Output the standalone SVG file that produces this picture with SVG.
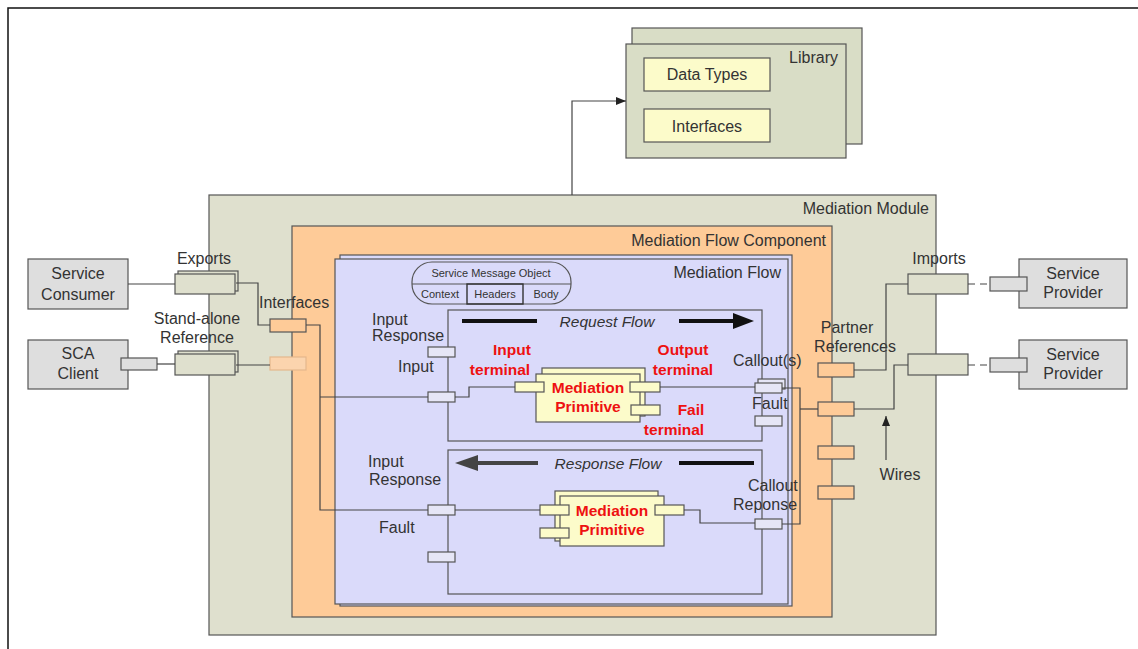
<svg xmlns="http://www.w3.org/2000/svg" width="1138" height="649" viewBox="0 0 1138 649">
  <defs>
    <style>
      .lbl { font-family: "Liberation Sans", Arial, sans-serif; font-size: 16px; fill: #333; }
      .sm { font-family: "Liberation Sans", Arial, sans-serif; font-size: 11px; fill: #333; }
      .flow { font-family: "Liberation Sans", Arial, sans-serif; font-size: 15.5px; font-style: italic; fill: #333; }
      .red { font-family: "Liberation Sans", Arial, sans-serif; font-size: 15.5px; font-weight: bold; fill: #ee1111; }
      .mid { text-anchor: middle; }
      .end { text-anchor: end; }
      .module { fill: #dfe0ce; stroke: #555; stroke-width: 1.2; }
      .mfc { fill: #fecb98; stroke: #555; stroke-width: 1.2; }
      .mf { fill: #dadafa; stroke: #555; stroke-width: 1.2; }
      .box { fill: none; stroke: #555; stroke-width: 1.2; }
      .green { fill: #dfe0ce; stroke: #555; stroke-width: 1.2; }
      .lib { fill: #d9ddc6; stroke: #555; stroke-width: 1.2; }
      .yellow { fill: #fcfbca; stroke: #555; stroke-width: 1.2; }
      .grey { fill: #dedede; stroke: #555; stroke-width: 1.2; }
      .orange { fill: #fecb98; stroke: #555; stroke-width: 1.2; }
      .port { fill: #e6e6f6; stroke: #555; stroke-width: 1.2; }
      .wire { fill: none; stroke: #444; stroke-width: 1.2; }
    </style>
    <marker id="arrow" viewBox="0 0 10 10" refX="10" refY="5" markerWidth="10" markerHeight="10" markerUnits="userSpaceOnUse" orient="auto">
      <path d="M0,1 L10,5 L0,9 Z" fill="#222"/>
    </marker>
  </defs>

  <!-- page frame -->
  <path d="M8,649 V8 H1138" fill="none" stroke="#111" stroke-width="1.5"/>

  <!-- library -->
  <g id="library">
    <rect x="632" y="28" width="230" height="116" class="lib"/>
    <rect x="626" y="44" width="220" height="114" class="lib"/>
    <text x="838" y="63" class="lbl end">Library</text>
  </g>
  <g id="data-types">
    <rect x="644" y="58" width="126" height="33" class="yellow"/>
    <text x="707" y="80" class="lbl mid">Data Types</text>
  </g>
  <g id="lib-interfaces">
    <rect x="644" y="109" width="126" height="33" class="yellow"/>
    <text x="707" y="132" class="lbl mid">Interfaces</text>
  </g>

  <!-- mediation module -->
  <g id="mediation-module">
    <rect x="209" y="195" width="727" height="440" class="module"/>
    <text x="929" y="214" class="lbl end">Mediation Module</text>
  </g>

  <!-- mediation flow component -->
  <g id="mediation-flow-component">
    <rect x="292" y="226" width="540" height="391" class="mfc"/>
    <text x="826" y="246" class="lbl end">Mediation Flow Component</text>
  </g>

  <!-- mediation flow -->
  <g id="mediation-flow">
    <rect x="340" y="255" width="452" height="351" class="mf"/>
    <rect x="335" y="259" width="453" height="345" class="mf"/>
    <text x="781" y="278" class="lbl end">Mediation Flow</text>
  </g>

  <!-- service message object -->
  <g id="service-message-object">
    <rect x="412" y="262" width="159" height="42" rx="20" ry="20" class="mf"/>
    <line x1="412" y1="284" x2="571" y2="284" class="box"/>
    <rect x="467" y="284" width="56" height="20" fill="none" stroke="#333" stroke-width="1.4"/>
    <text x="491" y="277" class="sm mid" font-size="10.5">Service Message Object</text>
    <text x="440" y="298" class="sm mid" fill="#555">Context</text>
    <text x="495" y="298" class="sm mid">Headers</text>
    <text x="546" y="298" class="sm mid">Body</text>
  </g>

  <!-- request flow -->
  <g id="request-flow">
    <rect x="448" y="310" width="314" height="131" class="box"/>
    <text x="607" y="327" class="flow mid">Request Flow</text>
    <line x1="462" y1="321" x2="537" y2="321" stroke="#111" stroke-width="4"/>
    <line x1="679" y1="321" x2="736" y2="321" stroke="#111" stroke-width="4"/>
    <path d="M733,313 L754,321 L733,329 Z" fill="#111"/>
  </g>

  <!-- response flow -->
  <g id="response-flow">
    <rect x="448" y="450" width="314" height="144" class="box"/>
    <text x="608" y="469" class="flow mid">Response Flow</text>
    <line x1="476" y1="463" x2="538" y2="463" stroke="#444" stroke-width="4"/>
    <path d="M478,455 L455,463 L478,471 Z" fill="#444"/>
    <line x1="679" y1="463" x2="754" y2="463" stroke="#111" stroke-width="4"/>
  </g>

  <!-- request mediation primitive -->
  <g id="request-primitive">
    <rect x="542" y="368" width="103" height="48" class="yellow"/>
    <rect x="536" y="374" width="104" height="48" class="yellow"/>
    <rect x="515" y="382" width="29" height="10" class="yellow"/>
    <rect x="630" y="382" width="30" height="10" class="yellow"/>
    <rect x="631" y="405" width="29" height="10" class="yellow"/>
    <text x="588" y="393" class="red mid">Mediation</text>
    <text x="588" y="412" class="red mid">Primitive</text>
  </g>

  <!-- response mediation primitive -->
  <g id="response-primitive">
    <rect x="555" y="491" width="103" height="50" class="yellow"/>
    <rect x="560" y="496" width="104" height="50" class="yellow"/>
    <rect x="540" y="505" width="29" height="10" class="yellow"/>
    <rect x="540" y="528" width="29" height="10" class="yellow"/>
    <rect x="655" y="505" width="29" height="10" class="yellow"/>
    <text x="612" y="516" class="red mid">Mediation</text>
    <text x="612" y="535" class="red mid">Primitive</text>
  </g>

  <!-- terminal labels -->
  <g id="terminal-labels">
    <text x="512" y="355" class="red mid">Input</text>
    <text x="500" y="375" class="red mid">terminal</text>
    <text x="683" y="355" class="red mid">Output</text>
    <text x="683" y="375" class="red mid">terminal</text>
    <text x="691" y="415" class="red mid">Fail</text>
    <text x="674" y="435" class="red mid">terminal</text>
  </g>

  <!-- flow ports -->
  <g id="flow-ports">
    <rect x="428" y="347" width="27" height="10" class="port"/>
    <rect x="428" y="392" width="27" height="10" class="port"/>
    <rect x="428" y="505" width="27" height="10" class="port"/>
    <rect x="428" y="552" width="27" height="10" class="port"/>
    <rect x="758" y="379" width="27" height="10" class="port"/>
    <rect x="755" y="383" width="27" height="10" class="port"/>
    <rect x="755" y="416" width="27" height="10" class="port"/>
    <rect x="755" y="519" width="27" height="10" class="port"/>
    <text x="372" y="325" class="lbl">Input</text>
    <text x="372" y="341" class="lbl">Response</text>
    <text x="398" y="372" class="lbl">Input</text>
    <text x="368" y="467" class="lbl">Input</text>
    <text x="369" y="485" class="lbl">Response</text>
    <text x="379" y="533" class="lbl" fill="#555">Fault</text>
    <text x="733" y="366" class="lbl">Callout(s)</text>
    <text x="752" y="409" class="lbl">Fault</text>
    <text x="748" y="491" class="lbl">Callout</text>
    <text x="733" y="510" class="lbl">Reponse</text>
  </g>

  <!-- service consumer -->
  <g id="service-consumer">
    <rect x="28" y="259" width="100" height="50" class="grey"/>
    <text x="78" y="279" class="lbl mid">Service</text>
    <text x="78" y="300" class="lbl mid" font-size="18" fill="#111">Consumer</text>
  </g>

  <!-- sca client -->
  <g id="sca-client">
    <rect x="28" y="340" width="100" height="49" class="grey"/>
    <rect x="121" y="358" width="36" height="12" class="grey"/>
    <text x="78" y="359" class="lbl mid">SCA</text>
    <text x="78" y="379" class="lbl mid">Client</text>
  </g>

  <!-- exports -->
  <g id="exports">
    <rect x="178" y="271" width="60" height="20" class="green"/>
    <rect x="175" y="274" width="60" height="20" class="green"/>
    <text x="204" y="264" class="lbl mid">Exports</text>
  </g>

  <!-- stand-alone reference -->
  <g id="stand-alone-reference">
    <rect x="178" y="351" width="60" height="21" class="green"/>
    <rect x="175" y="354" width="60" height="21" class="green"/>
    <text x="197" y="324" class="lbl mid">Stand-alone</text>
    <text x="197" y="343" class="lbl mid">Reference</text>
  </g>

  <!-- component interfaces -->
  <g id="interfaces">
    <rect x="270" y="319" width="36" height="13" class="orange"/>
    <rect x="270" y="357" width="36" height="13" fill="#fbd4ae" stroke="#e5b78c" stroke-width="1.2"/>
    <text x="259" y="308" class="lbl">Interfaces</text>
  </g>

  <!-- partner references -->
  <g id="partner-references">
    <rect x="818" y="363" width="36" height="14" class="orange"/>
    <rect x="818" y="402" width="36" height="14" class="orange"/>
    <rect x="818" y="446" width="36" height="13" class="orange"/>
    <rect x="818" y="486" width="36" height="13" class="orange"/>
    <text x="847" y="333" class="lbl mid">Partner</text>
    <text x="855" y="352" class="lbl mid">References</text>
  </g>

  <!-- imports -->
  <g id="imports">
    <rect x="908" y="274" width="60" height="20" class="green"/>
    <rect x="908" y="354" width="60" height="21" class="green"/>
    <text x="939" y="264" class="lbl mid">Imports</text>
  </g>

  <!-- service providers -->
  <g id="service-provider-1">
    <rect x="1019" y="259" width="108" height="49" class="grey"/>
    <rect x="990" y="277" width="37" height="14" class="grey"/>
    <text x="1073" y="279" class="lbl mid">Service</text>
    <text x="1073" y="298" class="lbl mid">Provider</text>
  </g>
  <g id="service-provider-2">
    <rect x="1019" y="340" width="108" height="49" class="grey"/>
    <rect x="990" y="358" width="37" height="14" class="grey"/>
    <text x="1073" y="360" class="lbl mid">Service</text>
    <text x="1073" y="379" class="lbl mid">Provider</text>
  </g>

  <!-- wires label -->
  <g id="wires-label">
    <text x="900" y="480" class="lbl mid">Wires</text>
  </g>

  <!-- connectors -->
  <g id="connectors">
    <path d="M572,195 V101 H626" class="wire" marker-end="url(#arrow)"/>
    <path d="M128,284 H175" class="wire"/>
    <path d="M157,364 H175" class="wire"/>
    <path d="M236,283 H258 V325 H270" class="wire"/>
    <path d="M236,365 H270" class="wire"/>
    <path d="M306,325 H320 V510 H428" class="wire"/>
    <path d="M320,397 H428" class="wire"/>
    <path d="M455,397 H469 V387 H515" class="wire"/>
    <path d="M660,387 H755" class="wire"/>
    <path d="M455,510 H540" class="wire"/>
    <path d="M684,510 H700 V523 H755" class="wire"/>
    <path d="M782,388 H800 V524 H782" class="wire"/>
    <path d="M800,409 H818" class="wire"/>
    <path d="M854,370 H886 V284 H908" class="wire"/>
    <path d="M854,409 H894 V365 H908" class="wire"/>
    <path d="M968,284 H990" class="wire" stroke-dasharray="7,5"/>
    <path d="M968,365 H990" class="wire" stroke-dasharray="7,5"/>
    <path d="M886,460 V416" class="wire" marker-end="url(#arrow)"/>
  </g>
</svg>
